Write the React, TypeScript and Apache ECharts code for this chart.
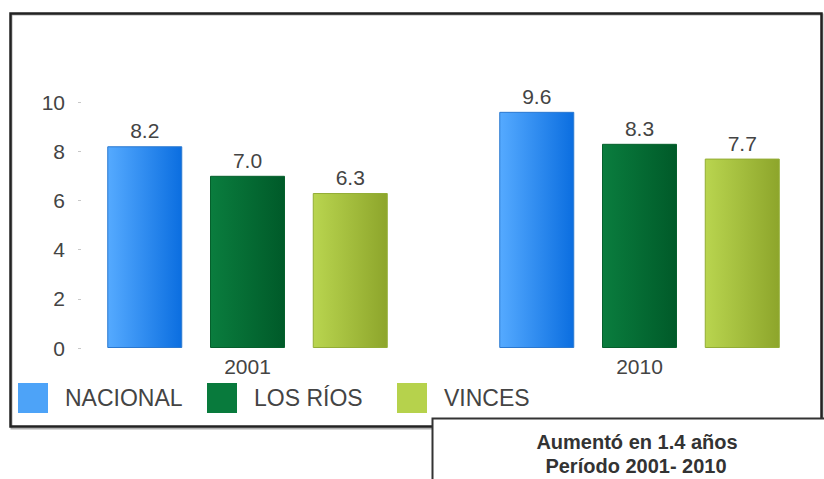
import React, { useEffect, useRef } from "react";
import * as echarts from "echarts";

const categories = ["2001", "2010"];
const seriesNames = ["NACIONAL", "LOS RÍOS", "VINCES"];
const nacional = [8.2, 9.6];
const losRios = [7.0, 8.3];
const vinces = [6.3, 7.7];
const yTicks = { min: 0, max: 10, interval: 2 };
const noteLines = ["Aumentó en 1.4 años", "Período 2001- 2010"];

const solidColors = ["#4da3f8", "#087a3c", "#b6d24c"];
const gradStops = [
  ["#55aaff", "#0b6ee0"],
  ["#0a7d3e", "#005a29"],
  ["#b9d54f", "#8da52b"],
];
const borderColors = ["#2a78d0", "#05602c", "#93ad35"];

export default function App() {
  const ref = useRef<HTMLDivElement>(null);
  useEffect(() => {
    if (!ref.current) return;
    const chart = echarts.init(ref.current, undefined, { renderer: "svg" });
    const values = [nacional, losRios, vinces];
    const font = "Liberation Sans, Arial, sans-serif";
    const legendLefts = [18, 207, 397];
    chart.setOption({
      animation: false,
      textStyle: { fontFamily: font },
      grid: {
        left: 51.5,
        top: 102,
        width: 784,
        bottom: 131,
        containLabel: false,
        outerBoundsMode: "none",
      },
      xAxis: {
        type: "category",
        data: categories,
        axisLine: { show: false },
        axisTick: { show: false },
        axisLabel: { fontSize: 21, color: "#444", margin: 8, fontFamily: font },
      },
      yAxis: {
        type: "value",
        min: yTicks.min,
        max: yTicks.max,
        interval: yTicks.interval,
        offset: -29.5,
        axisLine: { show: false },
        axisTick: { show: true, length: 3, lineStyle: { color: "#c8c8c8" } },
        splitLine: { show: false },
        axisLabel: { fontSize: 21, color: "#444", margin: 16, fontFamily: font },
      },
      legend: seriesNames.map((n, i) => ({
        data: [{ name: n, itemStyle: { color: solidColors[i], borderWidth: 0 } }],
        left: legendLefts[i],
        top: 383,
        padding: 0,
        icon: "rect",
        itemWidth: 30,
        itemHeight: 30,
        selectedMode: false,
        textStyle: { fontSize: 23, color: "#444", fontFamily: font, padding: [0, 0, 0, 12] },
      })),
      series: seriesNames.map((n, i) => ({
        name: n,
        type: "bar",
        data: values[i],
        barWidth: 75,
        barGap: "37%",
        itemStyle: {
          color: new echarts.graphic.LinearGradient(0, 0, 1, 0, [
            { offset: 0, color: gradStops[i][0] },
            { offset: 1, color: gradStops[i][1] },
          ]),
          borderColor: borderColors[i],
          borderWidth: 1,
        },
        label: {
          show: true,
          position: "top",
          distance: 5,
          fontSize: 21,
          color: "#444",
          fontFamily: font,
          formatter: (p: any) => Number(p.value).toFixed(1),
        },
      })),
      graphic: [
        {
          type: "rect",
          z: 0,
          shape: { x: 11.5, y: 14.5, width: 811, height: 414 },
          style: { fill: "none", stroke: "#b0b0b0", lineWidth: 2 },
        },
        {
          type: "rect",
          z: 1,
          shape: { x: 10.5, y: 13.5, width: 811, height: 413 },
          style: { fill: "none", stroke: "#222", lineWidth: 2.5 },
        },
        {
          type: "rect",
          z: 5,
          shape: { x: 432.5, y: 418.5, width: 420, height: 100 },
          style: { fill: "#fff", stroke: "#333", lineWidth: 2 },
        },
        {
          type: "text",
          z: 6,
          x: 637,
          y: 442,
          style: {
            text: noteLines[0],
            font: `bold 20px ${font}`,
            fill: "#333",
            align: "center",
            verticalAlign: "middle",
          },
        },
        {
          type: "text",
          z: 6,
          x: 636,
          y: 466,
          style: {
            text: noteLines[1],
            font: `bold 20px ${font}`,
            fill: "#333",
            align: "center",
            verticalAlign: "middle",
          },
        },
      ],
    });
    return () => chart.dispose();
  }, []);
  return (
    <div
      ref={ref}
      style={{ position: "fixed", left: 0, top: 0, width: 824, height: 479, background: "#fff" }}
    />
  );
}
